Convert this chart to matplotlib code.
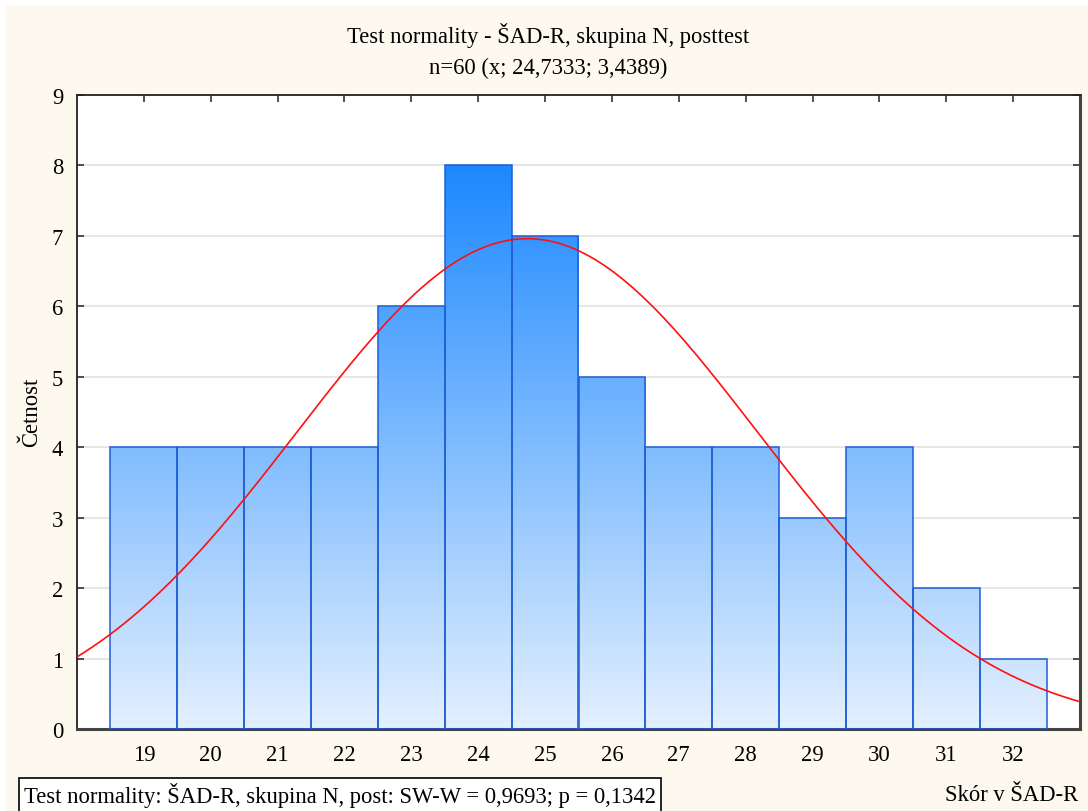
import numpy as np
import matplotlib
matplotlib.use("Agg")
import matplotlib.pyplot as plt
from matplotlib.patches import Rectangle

# Data
scores = [19, 20, 21, 22, 23, 24, 25, 26, 27, 28, 29, 30, 31, 32]
counts = [4, 4, 4, 4, 6, 8, 7, 5, 4, 4, 3, 4, 2, 1]
n_obs = 60
mean_val = 24.7333
sd_val = 3.4389
title_lines = ["Test normality - ŠAD-R, skupina N, posttest",
               "n=60 (x; 24,7333; 3,4389)"]
footer = "Test normality: ŠAD-R, skupina N, post: SW-W = 0,9693; p = 0,1342"
xlabel = "Skór v ŠAD-R"
ylabel = "Četnost"

plt.rcParams['font.family'] = ['Liberation Serif', 'DejaVu Serif']
FS = 16.3

W, H = 1088, 812
fig = plt.figure(figsize=(W / 100, H / 100), dpi=100)
fig.patch.set_facecolor('white')
# cream background with white border
fig.patches.append(Rectangle((6 / W, 0), 1 - 6 / W, 1 - 6 / H, transform=fig.transFigure,
                             facecolor='#FDF9EF', edgecolor='none', zorder=-10))

ax = fig.add_axes([77 / W, 1 - 730 / H, (1080 - 77) / W, (730 - 96) / H])
ax.set_facecolor('white')
ax.set_xlim(18, 33)
ax.set_ylim(0, 9)

# gridlines
for yv in range(1, 9):
    ax.axhline(yv, color='#E2E2E2', lw=1.2, zorder=0)

# gradient image
top_c = np.array([28, 136, 255]) / 255
bot_c = np.array([228, 240, 254]) / 255
ys = np.linspace(0, 1, 256)[:, None]
grad = (bot_c[None, None, :] * (1 - ys[..., None]) + top_c[None, None, :] * ys[..., None])
grad = np.repeat(grad, 2, axis=1)

binw = 1.0
for s, c in zip(scores, counts):
    x0 = s - binw / 2
    rect = Rectangle((x0, 0), binw, c, facecolor='none', edgecolor='#1E5FD6', lw=1.1, zorder=3)
    ax.add_patch(rect)
    im = ax.imshow(grad, extent=(x0, x0 + binw, 0, 8.0), origin='lower', aspect='auto',
                   zorder=2, interpolation='bilinear')
    im.set_clip_path(Rectangle((x0, 0), binw, c, transform=ax.transData))

ax.set_xlim(18, 33)
ax.set_ylim(0, 9)

# fitted normal curve
xs = np.linspace(18, 33, 400)
ys_curve = n_obs * binw / (sd_val * np.sqrt(2 * np.pi)) * np.exp(-(xs - mean_val) ** 2 / (2 * sd_val ** 2))
ax.plot(xs, ys_curve, color='#FF1010', lw=1.2, zorder=4)

ax.set_xticks(scores)
ax.set_yticks(range(0, 10))
ax.tick_params(axis='both', direction='in', length=5, width=1.2, colors='#333333',
               labelcolor='black', labelsize=FS, top=True, right=True)
ax.tick_params(axis='x', pad=11)
ax.tick_params(axis='y', pad=10)
for sp in ['left', 'top']:
    ax.spines[sp].set_color('#222222')
    ax.spines[sp].set_linewidth(1.3)
for sp in ['right', 'bottom']:
    ax.spines[sp].set_color('#444444')
    ax.spines[sp].set_linewidth(2.2)

fig.text(548 / W, 1 - 35 / H, title_lines[0], ha='center', va='center', fontsize=FS)
fig.text(548 / W, 1 - 68 / H, title_lines[1], ha='center', va='center', fontsize=FS)
fig.text(32 / W, 1 - 412 / H, ylabel, rotation=90, ha='center', va='center', fontsize=FS)
fig.text(1078 / W, 1 - 796 / H, xlabel, ha='right', va='center', fontsize=FS)
fig.text(24 / W, 1 - 796 / H, footer, ha='left', va='center', fontsize=FS,
         bbox=dict(boxstyle='square,pad=0.22', facecolor='white', edgecolor='black', lw=1.2))

fig.savefig('out.png', dpi=100, facecolor=fig.get_facecolor())
